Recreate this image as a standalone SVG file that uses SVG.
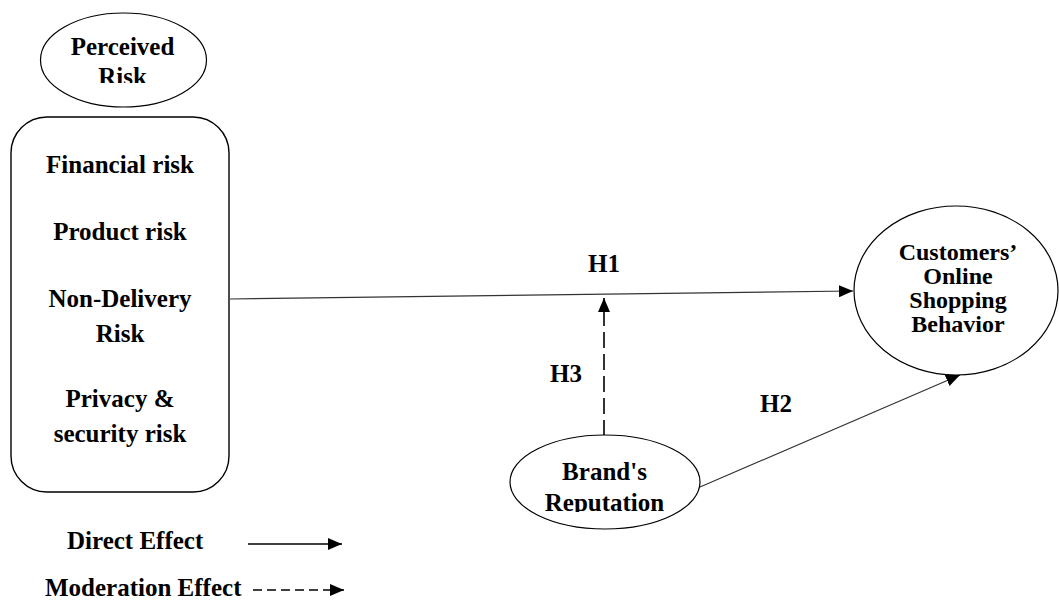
<svg xmlns="http://www.w3.org/2000/svg" width="1059" height="608" viewBox="0 0 1059 608">
  <style>
    .shape { fill: #ffffff; stroke: #000000; stroke-width: 1.2; }
    .box { fill: #ffffff; stroke: #000000; stroke-width: 1.4; }
    .lbl { font-family: "Liberation Serif", "Times New Roman", serif; font-weight: bold; font-size: 25px; fill: #000000; }
    .mid { text-anchor: middle; }
    .sm { font-size: 24px; }
    .edge { fill: none; stroke: #333333; stroke-width: 1.2; }
    .dash { stroke-dasharray: 16 6; stroke-width: 1.6; stroke: #000000; }
    .key { stroke: #000000; stroke-width: 1.6; }
    .ldash { stroke-dasharray: 9 5; }
  </style>
  <defs>
    <marker id="arrow" markerUnits="userSpaceOnUse" markerWidth="15" markerHeight="13" refX="14" refY="6" orient="auto">
      <path d="M0,0 L14,6 L0,12 z" fill="#000000"/>
    </marker>
    <clipPath id="clipRisk"><rect x="0" y="0" width="300" height="83"/></clipPath>
    <clipPath id="clipBrand"><rect x="450" y="420" width="300" height="92"/></clipPath>
  </defs>

  <rect width="1059" height="608" fill="#ffffff"/>

  <!-- connectors -->
  <g id="connectors">
    <line class="edge" x1="230" y1="299" x2="853" y2="291" marker-end="url(#arrow)"/>
    <line class="edge" x1="700" y1="487" x2="960" y2="375" marker-end="url(#arrow)"/>
    <line class="edge dash" x1="604" y1="436" x2="604" y2="298" marker-end="url(#arrow)"/>
    <text class="lbl" x="588" y="272" font-size="24">H1</text>
    <text class="lbl" x="550" y="382" font-size="24">H3</text>
    <text class="lbl" x="760" y="412" font-size="24">H2</text>
  </g>

  <!-- perceived risk header -->
  <g id="perceived-risk">
    <ellipse class="shape" cx="123.5" cy="60" rx="83" ry="47"/>
    <g clip-path="url(#clipRisk)">
      <text class="lbl mid" x="122.5" y="55">Perceived</text>
      <text class="lbl mid" x="122.5" y="85">Risk</text>
    </g>
  </g>

  <!-- risk dimensions -->
  <g id="risk-dimensions">
    <rect class="box" x="11" y="117" width="218" height="375" rx="36" ry="36"/>
    <text class="lbl mid" x="120" y="173">Financial risk</text>
    <text class="lbl mid" x="120" y="240">Product risk</text>
    <text class="lbl mid" x="120" y="307">Non-Delivery</text>
    <text class="lbl mid" x="120" y="342">Risk</text>
    <text class="lbl mid" x="120" y="407">Privacy &amp;</text>
    <text class="lbl mid" x="120" y="442">security risk</text>
  </g>

  <!-- outcome -->
  <g id="shopping-behavior">
    <ellipse class="shape" cx="956" cy="290.5" rx="102" ry="84.5"/>
    <text class="lbl sm mid" x="958" y="260">Customers’</text>
    <text class="lbl sm mid" x="958" y="284">Online</text>
    <text class="lbl sm mid" x="958" y="308">Shopping</text>
    <text class="lbl sm mid" x="958" y="332">Behavior</text>
  </g>

  <!-- moderator -->
  <g id="brand-reputation">
    <ellipse class="shape" cx="605" cy="482" rx="95" ry="47"/>
    <g clip-path="url(#clipBrand)">
      <text class="lbl mid" x="604.5" y="480">Brand's</text>
      <text class="lbl mid" x="604.5" y="511">Reputation</text>
    </g>
  </g>

  <!-- legend -->
  <g id="legend">
    <text class="lbl" x="67" y="549">Direct Effect</text>
    <line class="edge key" x1="248" y1="544" x2="342" y2="544" marker-end="url(#arrow)"/>
    <text class="lbl" x="45" y="596">Moderation Effect</text>
    <line class="edge key ldash" x1="253" y1="590" x2="344" y2="590" marker-end="url(#arrow)"/>
  </g>
</svg>
